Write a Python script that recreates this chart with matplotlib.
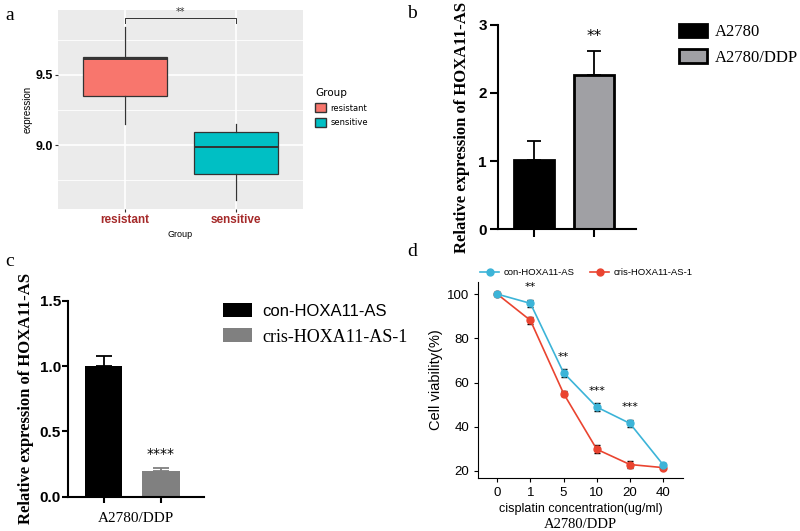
import matplotlib
matplotlib.use("Agg")
import matplotlib.pyplot as plt
from matplotlib.patches import Patch
from matplotlib.lines import Line2D

# panel a: boxplot stats
a_groups = ["resistant", "sensitive"]
a_stats = [
    dict(whislo=9.15, q1=9.352, med=9.617, q3=9.626, whishi=9.843),
    dict(whislo=8.607, q1=8.795, med=8.986, q3=9.093, whishi=9.148),
]
a_colors = ["#f8766d", "#00bfc4"]

# panel b
b_labels = ["A2780", "A2780/DDP"]
b_means = [1.01, 2.26]
b_errs = [0.29, 0.36]

# panel c
c_labels = ["con-HOXA11-AS", "cris-HOXA11-AS-1"]
c_means = [1.0, 0.196]
c_errs = [0.08, 0.021]

# panel d
d_conc = ["0", "1", "5", "10", "20", "40"]
d_con = [100, 95.8, 64.4, 48.9, 41.5, 22.8]
d_cris = [100, 88.1, 55.0, 29.8, 22.9, 21.5]
d_err_con = [0.8, 1.5, 1.8, 1.8, 1.6, 0.8]
d_err_cris = [0.6, 1.6, 1.2, 1.8, 1.4, 0.6]
d_stars = ["", "**", "**", "***", "***", ""]

SERIF = "Liberation Serif"
SANS = "Liberation Sans"

fig = plt.figure(figsize=(8, 5.31), dpi=100)


def px(x0, y0, x1, y1):
    return [x0 / 800, 1 - y1 / 531, (x1 - x0) / 800, (y1 - y0) / 531]


# ---------------- a ----------------
ax = fig.add_axes(px(58, 10, 303, 209))
ax.set_facecolor("#ebebeb")
ax.set_ylim(8.543, 9.964)
ax.set_xlim(0.4, 2.6)
for y in [8.75, 9.25, 9.75]:
    ax.axhline(y, color="white", lw=0.6, zorder=0)
for y in [9.0, 9.5]:
    ax.axhline(y, color="white", lw=1.2, zorder=0)
for x in [1, 2]:
    ax.axvline(x, color="white", lw=1.2, zorder=0)
bp = ax.bxp(a_stats, positions=[1, 2], widths=0.75, patch_artist=True,
            showfliers=False, showcaps=False)
for patch, col in zip(bp["boxes"], a_colors):
    patch.set_facecolor(col)
    patch.set_edgecolor("#333333")
    patch.set_linewidth(0.9)
for ln in bp["medians"]:
    ln.set_color("#333333")
    ln.set_linewidth(1.4)
for ln in bp["whiskers"]:
    ln.set_color("#333333")
    ln.set_linewidth(0.9)
ax.plot([1, 1, 2, 2], [9.87, 9.905, 9.905, 9.87], color="#333333", lw=0.7)
ax.text(1.5, 9.915, "**", ha="center", va="bottom", fontsize=7, color="#333333")
for s in ax.spines.values():
    s.set_visible(False)
ax.set_yticks([9.0, 9.5])
ax.set_yticklabels(["9.0", "9.5"], fontsize=9, fontweight="bold", family=SANS)
ax.set_xticks([1, 2])
ax.set_xticklabels(a_groups, fontsize=8.5, fontweight="bold", color="#a52a2a", family=SANS)
ax.tick_params(length=2.5, color="#333333", pad=1)
ax.set_ylabel("expression", fontsize=7, family=SANS, labelpad=2)
ax.set_xlabel("Group", fontsize=6.5, family=SANS, labelpad=3)
handles = [Patch(facecolor=c, edgecolor="#333333", label=g) for g, c in zip(a_groups, a_colors)]
leg = ax.legend(handles=handles, title="Group", loc="center left", bbox_to_anchor=(1.02, 0.51),
                frameon=False, fontsize=6, title_fontsize=7.5, handlelength=1.3,
                handleheight=1.2, labelspacing=0.7, handletextpad=0.5)
leg._legend_box.align = "left"
fig.text(5 / 800, 1 - 15 / 531, "a", fontsize=14, family=SERIF, va="center")

# ---------------- b ----------------
ax = fig.add_axes(px(498, 25, 636, 229))
ax.bar([0], b_means[0], width=0.67, color="black", edgecolor="black",
       lw=2, label=b_labels[0])
ax.bar([1], b_means[1], width=0.67, color="#a0a0a4", edgecolor="black",
       lw=2, label=b_labels[1])
ax.errorbar([0, 1], b_means, yerr=[[0, 0], b_errs], fmt="none", ecolor="black",
            capsize=5, capthick=1.3, lw=1.3)
ax.text(1, 2.72, "**", ha="center", va="bottom", fontsize=11)
ax.set_xlim(-0.6, 1.7)
ax.set_ylim(0, 3)
ax.set_yticks([0, 1, 2, 3])
ax.set_yticklabels(["0", "1", "2", "3"], fontsize=11, fontweight="bold", family=SANS)
ax.set_xticks([0, 1])
ax.set_xticklabels(["", ""])
ax.tick_params(width=1.5, length=6, pad=2)
for s in ["top", "right"]:
    ax.spines[s].set_visible(False)
for s in ["left", "bottom"]:
    ax.spines[s].set_linewidth(1.5)
ax.set_ylabel("Relative expression of HOXA11-AS", fontsize=12, fontweight="bold",
              family=SERIF, labelpad=6)
ax.legend(loc="upper left", bbox_to_anchor=(1.2, 1.08), frameon=False,
          prop=dict(family=SERIF, size=12), handlelength=1.7, handleheight=0.85,
          labelspacing=0.55, handletextpad=0.45)
fig.text(407 / 800, 1 - 13 / 531, "b", fontsize=14, family=SERIF, va="center")

# ---------------- c ----------------
ax = fig.add_axes(px(68, 300.7, 204, 496.7))
ax.bar([0], c_means[0], width=0.65, color="black", label=c_labels[0])
ax.bar([1], c_means[1], width=0.65, color="#808080", label=c_labels[1])
ax.errorbar([0], c_means[0], yerr=[[0], [c_errs[0]]], fmt="none", ecolor="black",
            capsize=6, capthick=1.3, lw=1.3)
ax.errorbar([1], c_means[1], yerr=[[0], [c_errs[1]]], fmt="none", ecolor="#808080",
            capsize=6, capthick=1.3, lw=1.3)
ax.text(1, 0.33, "****", ha="center", va="center", fontsize=10)
ax.set_xlim(-0.62, 1.75)
ax.set_ylim(0, 1.5)
ax.set_yticks([0, 0.5, 1.0, 1.5])
ax.set_yticklabels(["0.0", "0.5", "1.0", "1.5"], fontsize=11, fontweight="bold", family=SANS)
ax.set_xticks([0, 1])
ax.set_xticklabels(["", ""])
ax.tick_params(width=1.5, length=4, pad=1)
for s in ["top", "right"]:
    ax.spines[s].set_visible(False)
for s in ["left", "bottom"]:
    ax.spines[s].set_linewidth(1.5)
ax.set_xlabel("A2780/DDP", fontsize=11, family=SERIF, labelpad=6)
ax.set_ylabel("Relative expression of HOXA11-AS", fontsize=12, fontweight="bold",
              family=SERIF, labelpad=4)
leg = ax.legend(loc="upper left", bbox_to_anchor=(1.02, 1.07), frameon=False,
                prop=dict(family=SERIF, size=13), handlelength=1.6, handleheight=0.8,
                labelspacing=0.5, handletextpad=0.6)
leg.get_texts()[0].set_family(SANS)
leg.get_texts()[0].set_fontsize(12)
fig.text(5 / 800, 1 - 262 / 531, "c", fontsize=14, family=SERIF, va="center")

# ---------------- d ----------------
ax = fig.add_axes(px(478, 281.7, 683, 478))
xs = list(range(len(d_conc)))
ax.errorbar(xs, d_con, yerr=d_err_con, color="#3cb4d8", marker="o", ms=5, lw=1.2,
            ecolor="black", elinewidth=1, capsize=2.5, label="con-HOXA11-AS", zorder=3)
ax.errorbar(xs, d_cris, yerr=d_err_cris, color="#ea4430", marker="o", ms=5, lw=1.2,
            ecolor="black", elinewidth=1, capsize=2.5, label="cris-HOXA11-AS-1", zorder=2)
for x, v, s in zip(xs, d_con, d_stars):
    if s:
        ax.text(x, v + 5.0, s, ha="center", va="bottom", fontsize=8)
ax.set_xlim(-0.58, 5.6)
ax.set_ylim(16.8, 105.6)
ax.set_xticks(xs)
ax.set_xticklabels(d_conc, fontsize=9.5, family=SANS)
ax.set_yticks([20, 40, 60, 80, 100])
ax.set_yticklabels(["20", "40", "60", "80", "100"], fontsize=9.5, family=SANS)
ax.tick_params(length=3)
for s in ["top", "right"]:
    ax.spines[s].set_visible(False)
ax.set_ylabel("Cell viability(%)", fontsize=10.5, family=SANS, labelpad=3)
ax.set_xlabel("cisplatin concentration(ug/ml)", fontsize=9, family=SANS, labelpad=3)
handles = [Line2D([], [], color="#3cb4d8", marker="o", ms=5, lw=1.2),
           Line2D([], [], color="#ea4430", marker="o", ms=5, lw=1.2)]
ax.legend(handles, ["con-HOXA11-AS", "cris-HOXA11-AS-1"], loc="lower left",
          bbox_to_anchor=(-0.03, 0.98), ncol=2, frameon=False,
          handlelength=2.0, columnspacing=1.6, handletextpad=0.5,
          prop=dict(family=SANS, size=6.8))
fig.text(580 / 800, 1 - 525 / 531, "A2780/DDP", fontsize=10.5, family=SERIF,
         ha="center", va="center")
fig.text(407 / 800, 1 - 251 / 531, "d", fontsize=14, family=SERIF, va="center")

fig.savefig("out.png", dpi=100, facecolor="white")
